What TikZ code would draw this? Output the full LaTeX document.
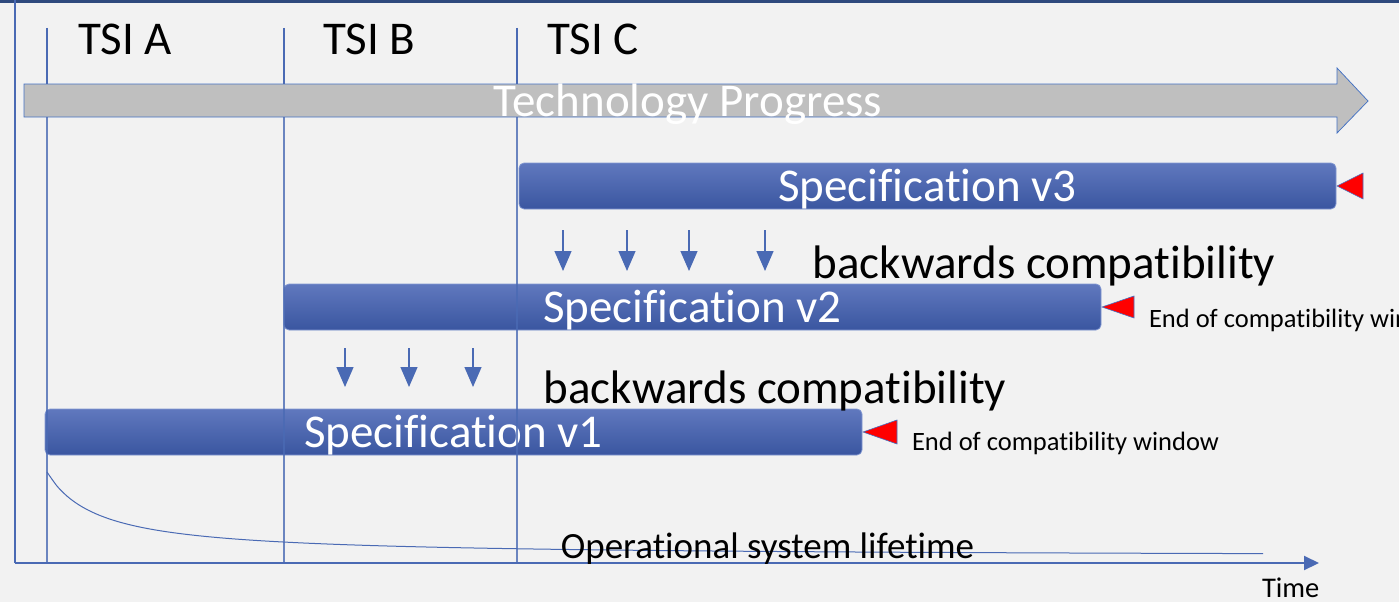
\documentclass[tikz,border=0pt]{standalone}
\usepackage{fontspec}
\setmainfont{Carlito}[Ligatures={NoCommon,NoRequired,NoContextual},Contextuals=NoAlternate]
\usetikzlibrary{arrows.meta}
\definecolor{bgColor}{RGB}{242,242,242}
\definecolor{topColor}{RGB}{47,74,126}
\definecolor{lineColor}{RGB}{74,106,180}
\definecolor{barTop}{RGB}{96,120,190}
\definecolor{barBottom}{RGB}{58,86,160}
\definecolor{barEdge}{RGB}{130,152,210}
\definecolor{arrowFill}{RGB}{191,191,191}
\definecolor{arrowEdge}{RGB}{68,114,196}
\begin{document}
\begin{tikzpicture}[x=1pt,y=-1pt,
  specbar/.style={rounded corners=5pt,draw=barEdge,line width=0.75pt,
    top color=barTop,bottom color=barBottom,text=white,
    inner sep=0pt,outer sep=0pt,minimum width=817pt,minimum height=46pt,
    text height=35pt,text depth=5pt,font=\fontsize{47}{50}\selectfont},
  endmark/.style={draw=arrowEdge,line width=0.6pt,fill=red},
  compatarrow/.style={draw=lineColor,line width=1.3pt,
    -{Triangle[length=20pt,width=17pt]}},
  tsiline/.style={draw=lineColor,line width=2pt},
  bigtext/.style={inner sep=0pt,outer sep=0pt,font=\fontsize{47}{50}\selectfont},
  midtext/.style={inner sep=0pt,outer sep=0pt,font=\fontsize{37}{40}\selectfont},
  smalltext/.style={inner sep=0pt,outer sep=0pt,font=\fontsize{26.5}{30}\selectfont}]
\path[use as bounding box,fill=bgColor] (0,0) rectangle (1399,602);

\path[draw=topColor,line width=3pt] (0,1.5) -- (1399,1.5);

% axes
\coordinate (origin) at (15,563);
\coordinate (timeend) at (1319,563);
\path[draw=lineColor,line width=2pt] (origin) -- (origin |- 0,0);
\path[draw=lineColor,line width=2pt,-{Triangle[length=15pt,width=14pt]}] (origin) -- (timeend);

\node[smalltext,font=\fontsize{28.5}{30}\selectfont,anchor=base west] (time) at (1262,597) {Time};

% technology progress arrow
\path[draw=arrowEdge,line width=0.75pt,fill=arrowFill] (24,84) -- (1337,84) --
	(1337,68) -- (1368,101) -- (1337,133) -- (1337,117) -- (24,117) -- cycle;
\node[bigtext,text=white,anchor=base] (techprog) at (688,116) {Technology Progress};

% TSI labels
\node[bigtext,anchor=base west] (tsiA) at (78,55) {TSI A};
\node[bigtext,anchor=base west] (tsiB) at (323,55) {TSI B};
\node[bigtext,anchor=base west] (tsiC) at (547,55) {TSI C};

% specifications
\node[specbar] (spec3) at (927.5,186) {Specification v3};
\node[specbar] (spec2) at (692.5,307) {Specification v2};
\node[specbar] (spec1) at (453.5,432) {Specification v1};

\path[endmark] ([xshift=1pt]spec3.east) -- ++(26,-13) -- ++(0,26) -- cycle;
\path[endmark] ([xshift=1pt]spec2.east) -- ++(32,-11) -- ++(0,22) -- cycle;
\path[endmark] ([xshift=1pt]spec1.east) -- ++(34,-12) -- ++(0,24) -- cycle;

\node[smalltext,anchor=base west] (endv2) at (1149,327) {End of compatibility window};
\node[smalltext,anchor=base west] (endv1) at (912,450) {End of compatibility window};

% backwards compatibility
\coordinate (v3foot) at ([yshift=-21pt]spec3.south);
\coordinate (v2head) at ([yshift=13pt]spec2.north);
\foreach \x in {563,627,689,765}
  \draw[compatarrow] (v3foot -| \x,0) -- (v2head -| \x,0);
\coordinate (v2foot) at ([yshift=-18pt]spec2.south);
\coordinate (v1head) at ([yshift=22pt]spec1.north);
\foreach \x in {345,409,473}
  \draw[compatarrow] (v2foot -| \x,0) -- (v1head -| \x,0);

\node[bigtext,anchor=base] (compat32) at (1044,278) {backwards compatibility};
\node[bigtext,anchor=base] (compat21) at (775,403) {backwards compatibility};

% lifetime
\path[draw=lineColor,line width=1pt] plot[domain=47:1263,samples=120,smooth]
	(\x,{557-4300/(\x+3.6)});
\node[midtext,anchor=base] (lifetime) at (767.5,558) {Operational system lifetime};

% TSI lines
\foreach \x in {46.5,283.5,516.5} {
  \path[tsiline] (\x,28) -- (\x,84);
  \path[tsiline,draw opacity=0.8] (\x,117) -- (\x,563);
}
\end{tikzpicture}
\end{document}
